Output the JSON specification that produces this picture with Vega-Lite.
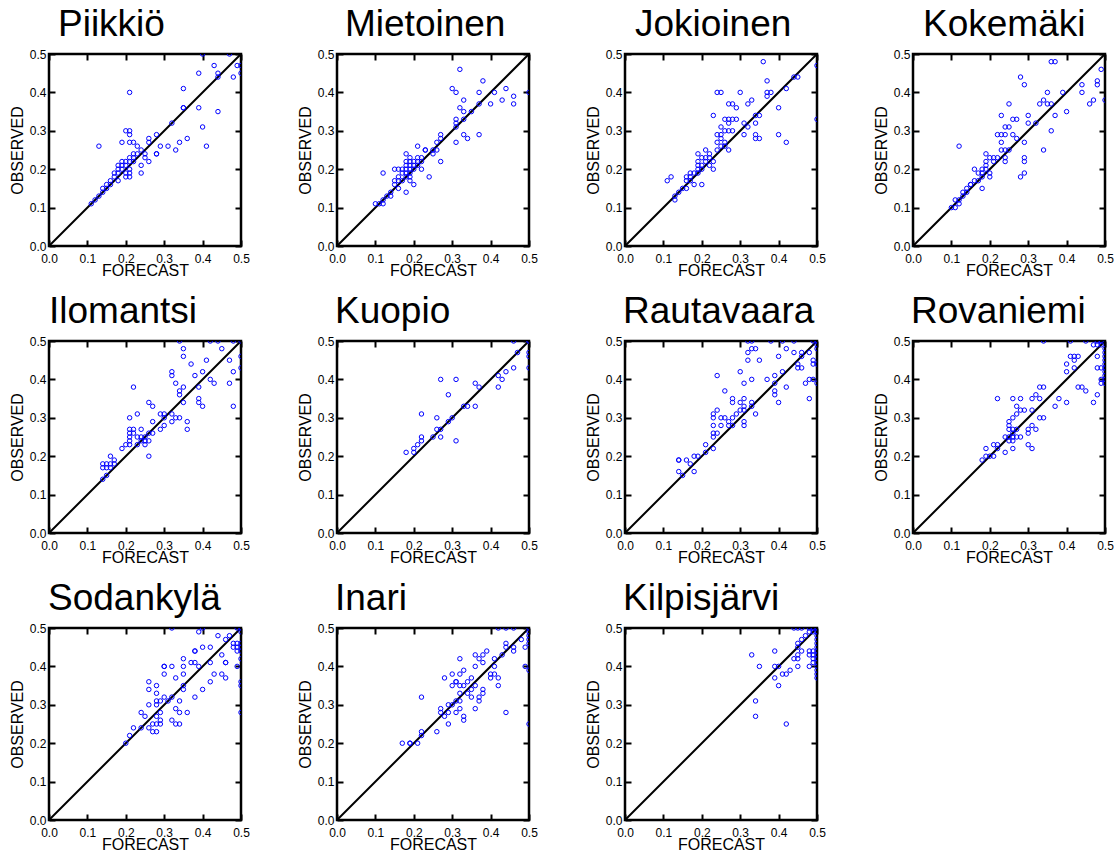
{
"$schema":"https://vega.github.io/schema/vega-lite/v6.json",
"padding":{"left":8,"top":4,"right":0,"bottom":0},
"datasets":{
"diag":[{"f":0,"o":0},{"f":0.5,"o":0.5}],
"Piikkiö":[{"f":0.40,"o":0.50},{"f":0.47,"o":0.50},{"f":0.43,"o":0.47},{"f":0.39,"o":0.45},{"f":0.44,"o":0.45},{"f":0.44,"o":0.44},{"f":0.49,"o":0.47},{"f":0.50,"o":0.47},{"f":0.48,"o":0.44},{"f":0.50,"o":0.45},{"f":0.35,"o":0.41},{"f":0.21,"o":0.40},{"f":0.35,"o":0.36},{"f":0.35,"o":0.36},{"f":0.39,"o":0.36},{"f":0.44,"o":0.35},{"f":0.40,"o":0.31},{"f":0.32,"o":0.32},{"f":0.41,"o":0.26},{"f":0.36,"o":0.28},{"f":0.34,"o":0.27},{"f":0.33,"o":0.25},{"f":0.31,"o":0.26},{"f":0.29,"o":0.26},{"f":0.28,"o":0.29},{"f":0.28,"o":0.24},{"f":0.28,"o":0.24},{"f":0.26,"o":0.28},{"f":0.26,"o":0.27},{"f":0.26,"o":0.22},{"f":0.25,"o":0.23},{"f":0.25,"o":0.24},{"f":0.24,"o":0.25},{"f":0.24,"o":0.21},{"f":0.24,"o":0.19},{"f":0.23,"o":0.26},{"f":0.22,"o":0.27},{"f":0.21,"o":0.27},{"f":0.21,"o":0.29},{"f":0.20,"o":0.30},{"f":0.21,"o":0.30},{"f":0.13,"o":0.26},{"f":0.19,"o":0.27},{"f":0.22,"o":0.24},{"f":0.22,"o":0.23},{"f":0.21,"o":0.23},{"f":0.21,"o":0.22},{"f":0.22,"o":0.22},{"f":0.20,"o":0.22},{"f":0.19,"o":0.22},{"f":0.20,"o":0.21},{"f":0.19,"o":0.21},{"f":0.18,"o":0.21},{"f":0.18,"o":0.20},{"f":0.19,"o":0.20},{"f":0.21,"o":0.20},{"f":0.20,"o":0.19},{"f":0.21,"o":0.19},{"f":0.18,"o":0.19},{"f":0.17,"o":0.19},{"f":0.17,"o":0.18},{"f":0.20,"o":0.18},{"f":0.21,"o":0.18},{"f":0.18,"o":0.17},{"f":0.16,"o":0.17},{"f":0.15,"o":0.16},{"f":0.14,"o":0.15},{"f":0.14,"o":0.14},{"f":0.13,"o":0.13},{"f":0.12,"o":0.12},{"f":0.11,"o":0.11},{"f":0.15,"o":0.15},{"f":0.16,"o":0.16},{"f":0.23,"o":0.24}],
"Mietoinen":[{"f":0.50,"o":0.40},{"f":0.32,"o":0.46},{"f":0.38,"o":0.43},{"f":0.30,"o":0.41},{"f":0.31,"o":0.40},{"f":0.37,"o":0.40},{"f":0.41,"o":0.40},{"f":0.44,"o":0.41},{"f":0.46,"o":0.39},{"f":0.43,"o":0.38},{"f":0.46,"o":0.37},{"f":0.40,"o":0.37},{"f":0.37,"o":0.37},{"f":0.33,"o":0.38},{"f":0.32,"o":0.36},{"f":0.33,"o":0.35},{"f":0.35,"o":0.35},{"f":0.31,"o":0.33},{"f":0.31,"o":0.32},{"f":0.33,"o":0.33},{"f":0.31,"o":0.31},{"f":0.27,"o":0.29},{"f":0.27,"o":0.28},{"f":0.33,"o":0.29},{"f":0.34,"o":0.28},{"f":0.37,"o":0.29},{"f":0.31,"o":0.27},{"f":0.26,"o":0.27},{"f":0.26,"o":0.25},{"f":0.25,"o":0.25},{"f":0.25,"o":0.24},{"f":0.27,"o":0.22},{"f":0.23,"o":0.25},{"f":0.21,"o":0.26},{"f":0.24,"o":0.18},{"f":0.22,"o":0.20},{"f":0.22,"o":0.23},{"f":0.21,"o":0.23},{"f":0.22,"o":0.22},{"f":0.21,"o":0.22},{"f":0.20,"o":0.22},{"f":0.19,"o":0.22},{"f":0.19,"o":0.23},{"f":0.18,"o":0.24},{"f":0.18,"o":0.22},{"f":0.20,"o":0.21},{"f":0.19,"o":0.21},{"f":0.18,"o":0.21},{"f":0.21,"o":0.21},{"f":0.20,"o":0.20},{"f":0.19,"o":0.20},{"f":0.17,"o":0.20},{"f":0.16,"o":0.20},{"f":0.15,"o":0.20},{"f":0.18,"o":0.20},{"f":0.19,"o":0.19},{"f":0.18,"o":0.19},{"f":0.17,"o":0.19},{"f":0.19,"o":0.18},{"f":0.18,"o":0.18},{"f":0.16,"o":0.18},{"f":0.19,"o":0.17},{"f":0.17,"o":0.17},{"f":0.16,"o":0.17},{"f":0.20,"o":0.16},{"f":0.15,"o":0.16},{"f":0.16,"o":0.15},{"f":0.18,"o":0.14},{"f":0.14,"o":0.14},{"f":0.14,"o":0.13},{"f":0.13,"o":0.13},{"f":0.12,"o":0.12},{"f":0.11,"o":0.11},{"f":0.10,"o":0.11},{"f":0.12,"o":0.11},{"f":0.12,"o":0.19},{"f":0.15,"o":0.17},{"f":0.23,"o":0.25}],
"Jokioinen":[{"f":0.36,"o":0.48},{"f":0.50,"o":0.47},{"f":0.44,"o":0.44},{"f":0.45,"o":0.44},{"f":0.37,"o":0.43},{"f":0.42,"o":0.41},{"f":0.24,"o":0.40},{"f":0.25,"o":0.40},{"f":0.30,"o":0.40},{"f":0.37,"o":0.40},{"f":0.38,"o":0.40},{"f":0.37,"o":0.39},{"f":0.33,"o":0.38},{"f":0.27,"o":0.37},{"f":0.28,"o":0.37},{"f":0.32,"o":0.37},{"f":0.29,"o":0.36},{"f":0.40,"o":0.36},{"f":0.23,"o":0.34},{"f":0.34,"o":0.34},{"f":0.35,"o":0.34},{"f":0.26,"o":0.33},{"f":0.27,"o":0.33},{"f":0.28,"o":0.33},{"f":0.29,"o":0.33},{"f":0.50,"o":0.33},{"f":0.27,"o":0.32},{"f":0.31,"o":0.32},{"f":0.34,"o":0.32},{"f":0.25,"o":0.31},{"f":0.32,"o":0.31},{"f":0.26,"o":0.30},{"f":0.27,"o":0.30},{"f":0.24,"o":0.29},{"f":0.25,"o":0.29},{"f":0.31,"o":0.29},{"f":0.34,"o":0.29},{"f":0.40,"o":0.29},{"f":0.25,"o":0.28},{"f":0.34,"o":0.28},{"f":0.35,"o":0.28},{"f":0.24,"o":0.27},{"f":0.26,"o":0.27},{"f":0.42,"o":0.27},{"f":0.25,"o":0.26},{"f":0.24,"o":0.25},{"f":0.27,"o":0.25},{"f":0.21,"o":0.25},{"f":0.19,"o":0.24},{"f":0.22,"o":0.24},{"f":0.22,"o":0.23},{"f":0.21,"o":0.23},{"f":0.20,"o":0.23},{"f":0.19,"o":0.22},{"f":0.23,"o":0.22},{"f":0.21,"o":0.22},{"f":0.19,"o":0.21},{"f":0.20,"o":0.21},{"f":0.22,"o":0.21},{"f":0.19,"o":0.20},{"f":0.20,"o":0.20},{"f":0.23,"o":0.20},{"f":0.18,"o":0.19},{"f":0.19,"o":0.19},{"f":0.17,"o":0.19},{"f":0.16,"o":0.18},{"f":0.17,"o":0.18},{"f":0.12,"o":0.18},{"f":0.11,"o":0.17},{"f":0.16,"o":0.17},{"f":0.18,"o":0.16},{"f":0.20,"o":0.16},{"f":0.15,"o":0.15},{"f":0.16,"o":0.15},{"f":0.14,"o":0.14},{"f":0.13,"o":0.13},{"f":0.13,"o":0.12},{"f":0.17,"o":0.17},{"f":0.26,"o":0.26},{"f":0.28,"o":0.30}],
"Kokemäki":[{"f":0.36,"o":0.48},{"f":0.37,"o":0.48},{"f":0.49,"o":0.46},{"f":0.28,"o":0.44},{"f":0.29,"o":0.42},{"f":0.44,"o":0.42},{"f":0.48,"o":0.43},{"f":0.48,"o":0.42},{"f":0.44,"o":0.40},{"f":0.35,"o":0.40},{"f":0.39,"o":0.40},{"f":0.34,"o":0.38},{"f":0.33,"o":0.37},{"f":0.35,"o":0.37},{"f":0.36,"o":0.37},{"f":0.25,"o":0.37},{"f":0.47,"o":0.38},{"f":0.46,"o":0.37},{"f":0.50,"o":0.38},{"f":0.40,"o":0.35},{"f":0.23,"o":0.34},{"f":0.30,"o":0.34},{"f":0.37,"o":0.34},{"f":0.26,"o":0.33},{"f":0.27,"o":0.33},{"f":0.25,"o":0.31},{"f":0.24,"o":0.31},{"f":0.30,"o":0.32},{"f":0.32,"o":0.32},{"f":0.22,"o":0.29},{"f":0.23,"o":0.29},{"f":0.24,"o":0.29},{"f":0.26,"o":0.29},{"f":0.27,"o":0.28},{"f":0.36,"o":0.30},{"f":0.23,"o":0.27},{"f":0.29,"o":0.27},{"f":0.12,"o":0.26},{"f":0.23,"o":0.25},{"f":0.24,"o":0.25},{"f":0.25,"o":0.25},{"f":0.34,"o":0.25},{"f":0.19,"o":0.24},{"f":0.24,"o":0.23},{"f":0.29,"o":0.23},{"f":0.21,"o":0.23},{"f":0.20,"o":0.23},{"f":0.22,"o":0.23},{"f":0.19,"o":0.22},{"f":0.24,"o":0.22},{"f":0.29,"o":0.22},{"f":0.21,"o":0.22},{"f":0.19,"o":0.21},{"f":0.18,"o":0.20},{"f":0.19,"o":0.20},{"f":0.20,"o":0.19},{"f":0.20,"o":0.18},{"f":0.17,"o":0.19},{"f":0.16,"o":0.20},{"f":0.18,"o":0.18},{"f":0.28,"o":0.18},{"f":0.29,"o":0.19},{"f":0.16,"o":0.17},{"f":0.17,"o":0.17},{"f":0.15,"o":0.16},{"f":0.18,"o":0.15},{"f":0.14,"o":0.15},{"f":0.13,"o":0.14},{"f":0.14,"o":0.14},{"f":0.13,"o":0.13},{"f":0.12,"o":0.12},{"f":0.11,"o":0.12},{"f":0.11,"o":0.10},{"f":0.10,"o":0.10},{"f":0.12,"o":0.11},{"f":0.18,"o":0.19},{"f":0.15,"o":0.16}],
"Ilomantsi":[{"f":0.34,"o":0.50},{"f":0.42,"o":0.50},{"f":0.44,"o":0.50},{"f":0.48,"o":0.50},{"f":0.50,"o":0.50},{"f":0.35,"o":0.48},{"f":0.45,"o":0.48},{"f":0.35,"o":0.46},{"f":0.50,"o":0.46},{"f":0.41,"o":0.45},{"f":0.47,"o":0.45},{"f":0.37,"o":0.44},{"f":0.32,"o":0.42},{"f":0.32,"o":0.41},{"f":0.40,"o":0.42},{"f":0.48,"o":0.42},{"f":0.38,"o":0.41},{"f":0.50,"o":0.43},{"f":0.42,"o":0.40},{"f":0.33,"o":0.39},{"f":0.43,"o":0.39},{"f":0.47,"o":0.39},{"f":0.22,"o":0.38},{"f":0.35,"o":0.38},{"f":0.39,"o":0.38},{"f":0.34,"o":0.37},{"f":0.34,"o":0.36},{"f":0.39,"o":0.35},{"f":0.39,"o":0.34},{"f":0.35,"o":0.34},{"f":0.26,"o":0.34},{"f":0.27,"o":0.33},{"f":0.40,"o":0.33},{"f":0.48,"o":0.33},{"f":0.23,"o":0.31},{"f":0.29,"o":0.31},{"f":0.30,"o":0.31},{"f":0.32,"o":0.31},{"f":0.21,"o":0.30},{"f":0.33,"o":0.30},{"f":0.34,"o":0.30},{"f":0.27,"o":0.29},{"f":0.32,"o":0.29},{"f":0.36,"o":0.29},{"f":0.30,"o":0.28},{"f":0.29,"o":0.27},{"f":0.36,"o":0.27},{"f":0.21,"o":0.27},{"f":0.22,"o":0.27},{"f":0.24,"o":0.27},{"f":0.21,"o":0.26},{"f":0.22,"o":0.26},{"f":0.26,"o":0.26},{"f":0.27,"o":0.26},{"f":0.23,"o":0.25},{"f":0.24,"o":0.25},{"f":0.25,"o":0.25},{"f":0.21,"o":0.25},{"f":0.25,"o":0.24},{"f":0.26,"o":0.24},{"f":0.21,"o":0.24},{"f":0.24,"o":0.24},{"f":0.25,"o":0.23},{"f":0.23,"o":0.23},{"f":0.20,"o":0.23},{"f":0.21,"o":0.23},{"f":0.19,"o":0.22},{"f":0.26,"o":0.20},{"f":0.16,"o":0.20},{"f":0.17,"o":0.19},{"f":0.14,"o":0.18},{"f":0.15,"o":0.18},{"f":0.16,"o":0.18},{"f":0.17,"o":0.18},{"f":0.14,"o":0.17},{"f":0.15,"o":0.17},{"f":0.16,"o":0.17},{"f":0.15,"o":0.15},{"f":0.14,"o":0.14},{"f":0.30,"o":0.30}],
"Kuopio":[{"f":0.46,"o":0.50},{"f":0.50,"o":0.50},{"f":0.50,"o":0.50},{"f":0.47,"o":0.47},{"f":0.50,"o":0.47},{"f":0.50,"o":0.46},{"f":0.50,"o":0.43},{"f":0.46,"o":0.43},{"f":0.44,"o":0.42},{"f":0.42,"o":0.41},{"f":0.43,"o":0.40},{"f":0.42,"o":0.38},{"f":0.27,"o":0.40},{"f":0.31,"o":0.40},{"f":0.36,"o":0.39},{"f":0.37,"o":0.38},{"f":0.29,"o":0.36},{"f":0.33,"o":0.33},{"f":0.34,"o":0.33},{"f":0.36,"o":0.33},{"f":0.22,"o":0.31},{"f":0.26,"o":0.30},{"f":0.30,"o":0.30},{"f":0.29,"o":0.29},{"f":0.26,"o":0.27},{"f":0.27,"o":0.27},{"f":0.31,"o":0.24},{"f":0.25,"o":0.25},{"f":0.27,"o":0.25},{"f":0.22,"o":0.25},{"f":0.22,"o":0.24},{"f":0.21,"o":0.23},{"f":0.20,"o":0.22},{"f":0.20,"o":0.21},{"f":0.18,"o":0.21}],
"Rautavaara":[{"f":0.32,"o":0.50},{"f":0.33,"o":0.50},{"f":0.38,"o":0.50},{"f":0.41,"o":0.50},{"f":0.44,"o":0.50},{"f":0.49,"o":0.50},{"f":0.50,"o":0.50},{"f":0.50,"o":0.49},{"f":0.50,"o":0.48},{"f":0.33,"o":0.48},{"f":0.34,"o":0.48},{"f":0.42,"o":0.48},{"f":0.32,"o":0.47},{"f":0.44,"o":0.47},{"f":0.46,"o":0.47},{"f":0.46,"o":0.46},{"f":0.48,"o":0.47},{"f":0.40,"o":0.46},{"f":0.32,"o":0.45},{"f":0.35,"o":0.45},{"f":0.49,"o":0.45},{"f":0.45,"o":0.44},{"f":0.45,"o":0.43},{"f":0.46,"o":0.43},{"f":0.49,"o":0.44},{"f":0.50,"o":0.44},{"f":0.41,"o":0.42},{"f":0.30,"o":0.42},{"f":0.24,"o":0.41},{"f":0.39,"o":0.41},{"f":0.33,"o":0.40},{"f":0.37,"o":0.40},{"f":0.47,"o":0.39},{"f":0.48,"o":0.40},{"f":0.49,"o":0.40},{"f":0.50,"o":0.39},{"f":0.39,"o":0.39},{"f":0.31,"o":0.39},{"f":0.42,"o":0.38},{"f":0.39,"o":0.37},{"f":0.39,"o":0.36},{"f":0.26,"o":0.37},{"f":0.48,"o":0.35},{"f":0.28,"o":0.35},{"f":0.28,"o":0.34},{"f":0.31,"o":0.35},{"f":0.30,"o":0.34},{"f":0.33,"o":0.34},{"f":0.40,"o":0.34},{"f":0.33,"o":0.33},{"f":0.31,"o":0.33},{"f":0.24,"o":0.32},{"f":0.30,"o":0.32},{"f":0.31,"o":0.32},{"f":0.23,"o":0.31},{"f":0.29,"o":0.31},{"f":0.34,"o":0.31},{"f":0.23,"o":0.30},{"f":0.25,"o":0.30},{"f":0.26,"o":0.30},{"f":0.28,"o":0.30},{"f":0.27,"o":0.29},{"f":0.31,"o":0.29},{"f":0.23,"o":0.28},{"f":0.25,"o":0.28},{"f":0.27,"o":0.28},{"f":0.28,"o":0.28},{"f":0.31,"o":0.28},{"f":0.23,"o":0.26},{"f":0.24,"o":0.26},{"f":0.23,"o":0.25},{"f":0.23,"o":0.22},{"f":0.21,"o":0.23},{"f":0.21,"o":0.21},{"f":0.18,"o":0.20},{"f":0.19,"o":0.20},{"f":0.17,"o":0.18},{"f":0.14,"o":0.19},{"f":0.14,"o":0.19},{"f":0.16,"o":0.19},{"f":0.14,"o":0.16},{"f":0.18,"o":0.16},{"f":0.15,"o":0.15}],
"Rovaniemi":[{"f":0.34,"o":0.50},{"f":0.41,"o":0.50},{"f":0.45,"o":0.50},{"f":0.48,"o":0.50},{"f":0.49,"o":0.50},{"f":0.47,"o":0.49},{"f":0.48,"o":0.49},{"f":0.49,"o":0.49},{"f":0.50,"o":0.48},{"f":0.50,"o":0.47},{"f":0.50,"o":0.46},{"f":0.50,"o":0.45},{"f":0.50,"o":0.44},{"f":0.50,"o":0.43},{"f":0.50,"o":0.42},{"f":0.50,"o":0.41},{"f":0.50,"o":0.39},{"f":0.48,"o":0.46},{"f":0.41,"o":0.46},{"f":0.42,"o":0.46},{"f":0.43,"o":0.46},{"f":0.42,"o":0.45},{"f":0.40,"o":0.44},{"f":0.48,"o":0.43},{"f":0.49,"o":0.43},{"f":0.42,"o":0.43},{"f":0.40,"o":0.42},{"f":0.49,"o":0.40},{"f":0.49,"o":0.39},{"f":0.43,"o":0.38},{"f":0.44,"o":0.38},{"f":0.45,"o":0.37},{"f":0.48,"o":0.36},{"f":0.47,"o":0.34},{"f":0.34,"o":0.38},{"f":0.33,"o":0.38},{"f":0.32,"o":0.36},{"f":0.22,"o":0.35},{"f":0.26,"o":0.35},{"f":0.28,"o":0.35},{"f":0.31,"o":0.35},{"f":0.33,"o":0.35},{"f":0.38,"o":0.35},{"f":0.40,"o":0.34},{"f":0.37,"o":0.33},{"f":0.27,"o":0.33},{"f":0.31,"o":0.32},{"f":0.28,"o":0.32},{"f":0.29,"o":0.32},{"f":0.27,"o":0.31},{"f":0.26,"o":0.30},{"f":0.25,"o":0.29},{"f":0.25,"o":0.28},{"f":0.33,"o":0.30},{"f":0.34,"o":0.30},{"f":0.30,"o":0.27},{"f":0.30,"o":0.26},{"f":0.31,"o":0.28},{"f":0.32,"o":0.27},{"f":0.26,"o":0.27},{"f":0.25,"o":0.27},{"f":0.27,"o":0.27},{"f":0.26,"o":0.26},{"f":0.24,"o":0.25},{"f":0.25,"o":0.25},{"f":0.27,"o":0.25},{"f":0.28,"o":0.25},{"f":0.26,"o":0.25},{"f":0.25,"o":0.24},{"f":0.26,"o":0.24},{"f":0.22,"o":0.23},{"f":0.21,"o":0.23},{"f":0.30,"o":0.23},{"f":0.22,"o":0.22},{"f":0.19,"o":0.22},{"f":0.26,"o":0.22},{"f":0.31,"o":0.22},{"f":0.24,"o":0.21},{"f":0.20,"o":0.20},{"f":0.21,"o":0.20},{"f":0.19,"o":0.20},{"f":0.18,"o":0.19},{"f":0.50,"o":0.40}],
"Sodankylä":[{"f":0.32,"o":0.50},{"f":0.40,"o":0.50},{"f":0.49,"o":0.50},{"f":0.50,"o":0.50},{"f":0.39,"o":0.49},{"f":0.50,"o":0.49},{"f":0.44,"o":0.48},{"f":0.47,"o":0.48},{"f":0.46,"o":0.47},{"f":0.48,"o":0.46},{"f":0.49,"o":0.46},{"f":0.50,"o":0.46},{"f":0.40,"o":0.45},{"f":0.42,"o":0.45},{"f":0.48,"o":0.45},{"f":0.49,"o":0.45},{"f":0.50,"o":0.45},{"f":0.38,"o":0.44},{"f":0.38,"o":0.44},{"f":0.49,"o":0.44},{"f":0.50,"o":0.44},{"f":0.45,"o":0.43},{"f":0.46,"o":0.41},{"f":0.50,"o":0.42},{"f":0.35,"o":0.42},{"f":0.37,"o":0.41},{"f":0.38,"o":0.41},{"f":0.42,"o":0.41},{"f":0.32,"o":0.40},{"f":0.30,"o":0.40},{"f":0.30,"o":0.40},{"f":0.35,"o":0.40},{"f":0.39,"o":0.40},{"f":0.49,"o":0.40},{"f":0.45,"o":0.38},{"f":0.46,"o":0.37},{"f":0.43,"o":0.38},{"f":0.35,"o":0.38},{"f":0.30,"o":0.38},{"f":0.33,"o":0.37},{"f":0.26,"o":0.36},{"f":0.42,"o":0.36},{"f":0.50,"o":0.36},{"f":0.50,"o":0.35},{"f":0.28,"o":0.35},{"f":0.35,"o":0.35},{"f":0.35,"o":0.34},{"f":0.26,"o":0.34},{"f":0.40,"o":0.34},{"f":0.28,"o":0.33},{"f":0.30,"o":0.32},{"f":0.32,"o":0.32},{"f":0.38,"o":0.32},{"f":0.28,"o":0.31},{"f":0.29,"o":0.31},{"f":0.34,"o":0.31},{"f":0.31,"o":0.31},{"f":0.26,"o":0.30},{"f":0.28,"o":0.30},{"f":0.33,"o":0.29},{"f":0.24,"o":0.28},{"f":0.29,"o":0.28},{"f":0.34,"o":0.28},{"f":0.36,"o":0.28},{"f":0.50,"o":0.28},{"f":0.25,"o":0.27},{"f":0.28,"o":0.27},{"f":0.29,"o":0.26},{"f":0.32,"o":0.26},{"f":0.24,"o":0.24},{"f":0.26,"o":0.24},{"f":0.27,"o":0.25},{"f":0.28,"o":0.25},{"f":0.29,"o":0.25},{"f":0.33,"o":0.25},{"f":0.34,"o":0.25},{"f":0.22,"o":0.24},{"f":0.27,"o":0.23},{"f":0.28,"o":0.23},{"f":0.21,"o":0.22},{"f":0.20,"o":0.20},{"f":0.46,"o":0.41}],
"Inari":[{"f":0.42,"o":0.50},{"f":0.44,"o":0.50},{"f":0.46,"o":0.50},{"f":0.50,"o":0.50},{"f":0.50,"o":0.49},{"f":0.50,"o":0.48},{"f":0.48,"o":0.47},{"f":0.50,"o":0.47},{"f":0.50,"o":0.46},{"f":0.44,"o":0.46},{"f":0.44,"o":0.45},{"f":0.46,"o":0.45},{"f":0.49,"o":0.45},{"f":0.46,"o":0.44},{"f":0.39,"o":0.44},{"f":0.43,"o":0.43},{"f":0.36,"o":0.43},{"f":0.38,"o":0.43},{"f":0.32,"o":0.42},{"f":0.37,"o":0.42},{"f":0.41,"o":0.42},{"f":0.38,"o":0.41},{"f":0.36,"o":0.40},{"f":0.41,"o":0.40},{"f":0.49,"o":0.40},{"f":0.50,"o":0.39},{"f":0.30,"o":0.38},{"f":0.33,"o":0.39},{"f":0.32,"o":0.38},{"f":0.40,"o":0.38},{"f":0.41,"o":0.38},{"f":0.28,"o":0.37},{"f":0.35,"o":0.37},{"f":0.40,"o":0.37},{"f":0.42,"o":0.37},{"f":0.31,"o":0.36},{"f":0.31,"o":0.36},{"f":0.34,"o":0.36},{"f":0.30,"o":0.35},{"f":0.32,"o":0.35},{"f":0.33,"o":0.35},{"f":0.36,"o":0.35},{"f":0.42,"o":0.35},{"f":0.35,"o":0.34},{"f":0.38,"o":0.34},{"f":0.34,"o":0.33},{"f":0.32,"o":0.33},{"f":0.38,"o":0.33},{"f":0.22,"o":0.32},{"f":0.35,"o":0.32},{"f":0.37,"o":0.32},{"f":0.31,"o":0.31},{"f":0.32,"o":0.31},{"f":0.37,"o":0.31},{"f":0.29,"o":0.30},{"f":0.30,"o":0.30},{"f":0.27,"o":0.29},{"f":0.32,"o":0.29},{"f":0.36,"o":0.29},{"f":0.27,"o":0.28},{"f":0.29,"o":0.28},{"f":0.31,"o":0.28},{"f":0.44,"o":0.28},{"f":0.28,"o":0.27},{"f":0.33,"o":0.27},{"f":0.33,"o":0.26},{"f":0.29,"o":0.25},{"f":0.50,"o":0.25},{"f":0.26,"o":0.23},{"f":0.22,"o":0.23},{"f":0.22,"o":0.22},{"f":0.17,"o":0.20},{"f":0.19,"o":0.20},{"f":0.21,"o":0.20},{"f":0.19,"o":0.20}],
"Kilpisjärvi":[{"f":0.44,"o":0.50},{"f":0.45,"o":0.50},{"f":0.46,"o":0.50},{"f":0.48,"o":0.50},{"f":0.49,"o":0.50},{"f":0.50,"o":0.50},{"f":0.50,"o":0.49},{"f":0.50,"o":0.48},{"f":0.50,"o":0.47},{"f":0.50,"o":0.46},{"f":0.50,"o":0.45},{"f":0.50,"o":0.44},{"f":0.50,"o":0.43},{"f":0.50,"o":0.42},{"f":0.50,"o":0.41},{"f":0.50,"o":0.40},{"f":0.50,"o":0.39},{"f":0.50,"o":0.37},{"f":0.48,"o":0.49},{"f":0.49,"o":0.49},{"f":0.47,"o":0.48},{"f":0.46,"o":0.47},{"f":0.45,"o":0.46},{"f":0.45,"o":0.45},{"f":0.46,"o":0.44},{"f":0.48,"o":0.44},{"f":0.49,"o":0.44},{"f":0.39,"o":0.44},{"f":0.33,"o":0.43},{"f":0.45,"o":0.43},{"f":0.48,"o":0.43},{"f":0.49,"o":0.43},{"f":0.44,"o":0.42},{"f":0.45,"o":0.42},{"f":0.49,"o":0.42},{"f":0.49,"o":0.41},{"f":0.35,"o":0.40},{"f":0.39,"o":0.40},{"f":0.40,"o":0.40},{"f":0.45,"o":0.40},{"f":0.48,"o":0.40},{"f":0.43,"o":0.39},{"f":0.41,"o":0.38},{"f":0.42,"o":0.38},{"f":0.39,"o":0.37},{"f":0.40,"o":0.35},{"f":0.34,"o":0.31},{"f":0.34,"o":0.27},{"f":0.42,"o":0.25},{"f":0.50,"o":0.38}]
},
"columns":4,
"spacing":{"row":95,"column":96},
"bounds":"flush",
"concat":[
{"title":{"text":"Piikkiö","dx":9},"layer":[{"data":{"name":"diag"},"mark":{"type":"line","color":"black","strokeWidth":2},"encoding":{"x":{"field":"f","type":"quantitative","scale":{"domain":[0,0.5],"nice":false},"axis":{"orient":"top","title":null,"labels":false}},"y":{"field":"o","type":"quantitative","scale":{"domain":[0,0.5],"nice":false},"axis":{"orient":"right","title":null,"labels":false}}}},{"data":{"name":"Piikkiö"},"mark":{"type":"point","clip":true},"encoding":{"x":{"field":"f","type":"quantitative","scale":{"domain":[0,0.5],"nice":false},"axis":{"orient":"bottom","title":"FORECAST"}},"y":{"field":"o","type":"quantitative","scale":{"domain":[0,0.5],"nice":false},"axis":{"orient":"left","title":"OBSERVED"}}}}],"resolve":{"axis":{"x":"independent","y":"independent"}}},
{"title":{"text":"Mietoinen","dx":8},"layer":[{"data":{"name":"diag"},"mark":{"type":"line","color":"black","strokeWidth":2},"encoding":{"x":{"field":"f","type":"quantitative","scale":{"domain":[0,0.5],"nice":false},"axis":{"orient":"top","title":null,"labels":false}},"y":{"field":"o","type":"quantitative","scale":{"domain":[0,0.5],"nice":false},"axis":{"orient":"right","title":null,"labels":false}}}},{"data":{"name":"Mietoinen"},"mark":{"type":"point","clip":true},"encoding":{"x":{"field":"f","type":"quantitative","scale":{"domain":[0,0.5],"nice":false},"axis":{"orient":"bottom","title":"FORECAST"}},"y":{"field":"o","type":"quantitative","scale":{"domain":[0,0.5],"nice":false},"axis":{"orient":"left","title":"OBSERVED"}}}}],"resolve":{"axis":{"x":"independent","y":"independent"}}},
{"title":{"text":"Jokioinen","dx":10},"layer":[{"data":{"name":"diag"},"mark":{"type":"line","color":"black","strokeWidth":2},"encoding":{"x":{"field":"f","type":"quantitative","scale":{"domain":[0,0.5],"nice":false},"axis":{"orient":"top","title":null,"labels":false}},"y":{"field":"o","type":"quantitative","scale":{"domain":[0,0.5],"nice":false},"axis":{"orient":"right","title":null,"labels":false}}}},{"data":{"name":"Jokioinen"},"mark":{"type":"point","clip":true},"encoding":{"x":{"field":"f","type":"quantitative","scale":{"domain":[0,0.5],"nice":false},"axis":{"orient":"bottom","title":"FORECAST"}},"y":{"field":"o","type":"quantitative","scale":{"domain":[0,0.5],"nice":false},"axis":{"orient":"left","title":"OBSERVED"}}}}],"resolve":{"axis":{"x":"independent","y":"independent"}}},
{"title":{"text":"Kokemäki","dx":10},"layer":[{"data":{"name":"diag"},"mark":{"type":"line","color":"black","strokeWidth":2},"encoding":{"x":{"field":"f","type":"quantitative","scale":{"domain":[0,0.5],"nice":false},"axis":{"orient":"top","title":null,"labels":false}},"y":{"field":"o","type":"quantitative","scale":{"domain":[0,0.5],"nice":false},"axis":{"orient":"right","title":null,"labels":false}}}},{"data":{"name":"Kokemäki"},"mark":{"type":"point","clip":true},"encoding":{"x":{"field":"f","type":"quantitative","scale":{"domain":[0,0.5],"nice":false},"axis":{"orient":"bottom","title":"FORECAST"}},"y":{"field":"o","type":"quantitative","scale":{"domain":[0,0.5],"nice":false},"axis":{"orient":"left","title":"OBSERVED"}}}}],"resolve":{"axis":{"x":"independent","y":"independent"}}},
{"title":{"text":"Ilomantsi","dx":0},"layer":[{"data":{"name":"diag"},"mark":{"type":"line","color":"black","strokeWidth":2},"encoding":{"x":{"field":"f","type":"quantitative","scale":{"domain":[0,0.5],"nice":false},"axis":{"orient":"top","title":null,"labels":false}},"y":{"field":"o","type":"quantitative","scale":{"domain":[0,0.5],"nice":false},"axis":{"orient":"right","title":null,"labels":false}}}},{"data":{"name":"Ilomantsi"},"mark":{"type":"point","clip":true},"encoding":{"x":{"field":"f","type":"quantitative","scale":{"domain":[0,0.5],"nice":false},"axis":{"orient":"bottom","title":"FORECAST"}},"y":{"field":"o","type":"quantitative","scale":{"domain":[0,0.5],"nice":false},"axis":{"orient":"left","title":"OBSERVED"}}}}],"resolve":{"axis":{"x":"independent","y":"independent"}}},
{"title":{"text":"Kuopio","dx":-2},"layer":[{"data":{"name":"diag"},"mark":{"type":"line","color":"black","strokeWidth":2},"encoding":{"x":{"field":"f","type":"quantitative","scale":{"domain":[0,0.5],"nice":false},"axis":{"orient":"top","title":null,"labels":false}},"y":{"field":"o","type":"quantitative","scale":{"domain":[0,0.5],"nice":false},"axis":{"orient":"right","title":null,"labels":false}}}},{"data":{"name":"Kuopio"},"mark":{"type":"point","clip":true},"encoding":{"x":{"field":"f","type":"quantitative","scale":{"domain":[0,0.5],"nice":false},"axis":{"orient":"bottom","title":"FORECAST"}},"y":{"field":"o","type":"quantitative","scale":{"domain":[0,0.5],"nice":false},"axis":{"orient":"left","title":"OBSERVED"}}}}],"resolve":{"axis":{"x":"independent","y":"independent"}}},
{"title":{"text":"Rautavaara","dx":-2},"layer":[{"data":{"name":"diag"},"mark":{"type":"line","color":"black","strokeWidth":2},"encoding":{"x":{"field":"f","type":"quantitative","scale":{"domain":[0,0.5],"nice":false},"axis":{"orient":"top","title":null,"labels":false}},"y":{"field":"o","type":"quantitative","scale":{"domain":[0,0.5],"nice":false},"axis":{"orient":"right","title":null,"labels":false}}}},{"data":{"name":"Rautavaara"},"mark":{"type":"point","clip":true},"encoding":{"x":{"field":"f","type":"quantitative","scale":{"domain":[0,0.5],"nice":false},"axis":{"orient":"bottom","title":"FORECAST"}},"y":{"field":"o","type":"quantitative","scale":{"domain":[0,0.5],"nice":false},"axis":{"orient":"left","title":"OBSERVED"}}}}],"resolve":{"axis":{"x":"independent","y":"independent"}}},
{"title":{"text":"Rovaniemi","dx":-2},"layer":[{"data":{"name":"diag"},"mark":{"type":"line","color":"black","strokeWidth":2},"encoding":{"x":{"field":"f","type":"quantitative","scale":{"domain":[0,0.5],"nice":false},"axis":{"orient":"top","title":null,"labels":false}},"y":{"field":"o","type":"quantitative","scale":{"domain":[0,0.5],"nice":false},"axis":{"orient":"right","title":null,"labels":false}}}},{"data":{"name":"Rovaniemi"},"mark":{"type":"point","clip":true},"encoding":{"x":{"field":"f","type":"quantitative","scale":{"domain":[0,0.5],"nice":false},"axis":{"orient":"bottom","title":"FORECAST"}},"y":{"field":"o","type":"quantitative","scale":{"domain":[0,0.5],"nice":false},"axis":{"orient":"left","title":"OBSERVED"}}}}],"resolve":{"axis":{"x":"independent","y":"independent"}}},
{"title":{"text":"Sodankylä","dx":-1},"layer":[{"data":{"name":"diag"},"mark":{"type":"line","color":"black","strokeWidth":2},"encoding":{"x":{"field":"f","type":"quantitative","scale":{"domain":[0,0.5],"nice":false},"axis":{"orient":"top","title":null,"labels":false}},"y":{"field":"o","type":"quantitative","scale":{"domain":[0,0.5],"nice":false},"axis":{"orient":"right","title":null,"labels":false}}}},{"data":{"name":"Sodankylä"},"mark":{"type":"point","clip":true},"encoding":{"x":{"field":"f","type":"quantitative","scale":{"domain":[0,0.5],"nice":false},"axis":{"orient":"bottom","title":"FORECAST"}},"y":{"field":"o","type":"quantitative","scale":{"domain":[0,0.5],"nice":false},"axis":{"orient":"left","title":"OBSERVED"}}}}],"resolve":{"axis":{"x":"independent","y":"independent"}}},
{"title":{"text":"Inari","dx":-2},"layer":[{"data":{"name":"diag"},"mark":{"type":"line","color":"black","strokeWidth":2},"encoding":{"x":{"field":"f","type":"quantitative","scale":{"domain":[0,0.5],"nice":false},"axis":{"orient":"top","title":null,"labels":false}},"y":{"field":"o","type":"quantitative","scale":{"domain":[0,0.5],"nice":false},"axis":{"orient":"right","title":null,"labels":false}}}},{"data":{"name":"Inari"},"mark":{"type":"point","clip":true},"encoding":{"x":{"field":"f","type":"quantitative","scale":{"domain":[0,0.5],"nice":false},"axis":{"orient":"bottom","title":"FORECAST"}},"y":{"field":"o","type":"quantitative","scale":{"domain":[0,0.5],"nice":false},"axis":{"orient":"left","title":"OBSERVED"}}}}],"resolve":{"axis":{"x":"independent","y":"independent"}}},
{"title":{"text":"Kilpisjärvi","dx":-2},"layer":[{"data":{"name":"diag"},"mark":{"type":"line","color":"black","strokeWidth":2},"encoding":{"x":{"field":"f","type":"quantitative","scale":{"domain":[0,0.5],"nice":false},"axis":{"orient":"top","title":null,"labels":false}},"y":{"field":"o","type":"quantitative","scale":{"domain":[0,0.5],"nice":false},"axis":{"orient":"right","title":null,"labels":false}}}},{"data":{"name":"Kilpisjärvi"},"mark":{"type":"point","clip":true},"encoding":{"x":{"field":"f","type":"quantitative","scale":{"domain":[0,0.5],"nice":false},"axis":{"orient":"bottom","title":"FORECAST"}},"y":{"field":"o","type":"quantitative","scale":{"domain":[0,0.5],"nice":false},"axis":{"orient":"left","title":"OBSERVED"}}}}],"resolve":{"axis":{"x":"independent","y":"independent"}}}
],
"config":{
"background":"white",
"view":{"continuousWidth":192,"continuousHeight":192,"stroke":"black","strokeWidth":2.5},
"point":{"shape":"circle","filled":false,"color":"#0000ff","size":20,"strokeWidth":1,"opacity":1},
"axis":{"domain":false,"grid":false,"tickCount":5,"tickColor":"black","tickWidth":2,"tickSize":-6,"format":".1f","labelFlush":false,"labelOverlap":false,"labelFont":"Liberation Sans","labelFontSize":12,"labelColor":"black","titleFont":"Liberation Sans","titleFontSize":16,"titleFontWeight":"normal","titleColor":"black"},
"axisX":{"labelPadding":13,"titlePadding":-2},
"axisY":{"labelPadding":9,"titlePadding":4},
"title":{"font":"Liberation Sans","fontSize":37,"fontWeight":"normal","color":"black","anchor":"start","frame":"group","baseline":"alphabetic","offset":4.5}
}
}
